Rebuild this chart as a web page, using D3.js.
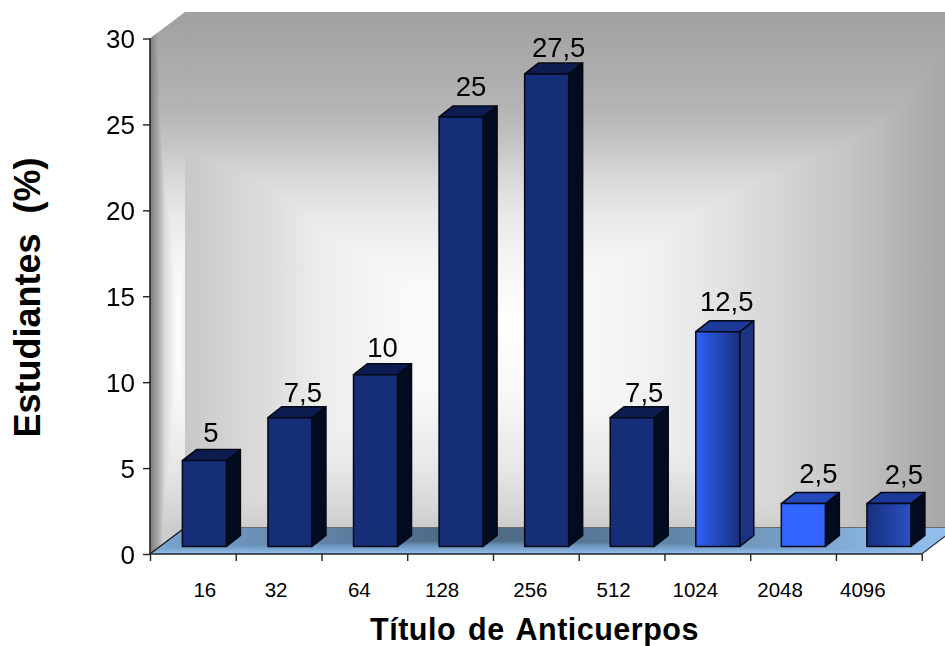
<!DOCTYPE html>
<html><head><meta charset="utf-8">
<script src="https://cdn.jsdelivr.net/npm/d3@7"></script>
<style>html,body{margin:0;padding:0;background:#fff;overflow:hidden}svg{display:block}text{font-family:"Liberation Sans",Arial,sans-serif;fill:#000}</style>
</head><body><div id="c"></div>
<script>
const categories=["16","32","64","128","256","512","1024","2048","4096"];
const values=[5,7.5,10,25,27.5,7.5,12.5,2.5,2.5];
const valueLabels=["5","7,5","10","25","27,5","7,5","12,5","2,5","2,5"];
const yTicks=[0,5,10,15,20,25,30];
const xTitle="Título de Anticuerpos";
const yTitle="Estudiantes\u00a0\u00a0(%)";
// layout nudges (px), matching the original's uneven label placement
const tickNudge=[12,-2.5,-5,-8,-5.5,-8,-12,-13,-16];
const labelNudgeX=[6.6,13,7,10,12,12,9,15,15];
const labelLift=[7.6,4.6,7,10,6,4.6,10,9.5,9];
// bar skins
const frontLeft=["#162d78","#162d78","#162d78","#162d78","#162d78","#162d78","#2f62f8","#3366ff","#172f7c"];
const frontRight=["#162d78","#162d78","#162d78","#162d78","#162d78","#162d78","#17307c","#3366ff","#2a50c4"];
const sideCol=["#020c20","#020c20","#020c20","#020c20","#020c20","#020c20","#1a3482","#020c20","#020c20"];
const topCol=["#0c1c50","#0c1c50","#0c1c50","#0c1c50","#0c1c50","#0c1c50","#1c3a98","#2348b8","#1d3a9a"];

const W=945,H=646;
const x0=150,x1=921.7,y0=554,y1=38.5,dX=35,dY=-26.5;
const svg=d3.select("#c").append("svg").attr("width",W).attr("height",H);
const defs=svg.append("defs");
const x=d3.scaleBand().domain(categories).range([151.9,922]);
const y=d3.scaleLinear().domain([0,30]).range([y0,y1]);
const line=d3.line();
function grad(id,horizontal,a,b,stops){
  const g=defs.append("linearGradient").attr("id",id).attr("gradientUnits","userSpaceOnUse")
    .attr("x1",horizontal?a:0).attr("x2",horizontal?b:0).attr("y1",horizontal?0:a).attr("y2",horizontal?0:b);
  stops.forEach(s=>g.append("stop").attr("offset",(s[0]-a)/(b-a)).attr("stop-color",s[1]));
}
const wallTop=y1+dY,wallBottom=y0+dY;
grad("wallV",false,wallTop,wallBottom,[[12,"#a0a0a0"],[107,"#b4b4b4"],[143,"#c4c4c4"],[178,"#d8d8d8"],[214,"#e8e8e8"],[250,"#f2f2f2"],[321,"#ffffff"],[393,"#f8f8f8"],[464,"#e8e8e8"],[518,"#d2d2d2"],[527.5,"#cccccc"]]);
grad("wallH",true,x0+dX,W,[[185,"#c8c8c8"],[265,"#dcdcdc"],[327,"#eeeeee"],[400,"#f8f8f8"],[515,"#ffffff"],[660,"#f0f0f0"],[750,"#dcdcdc"],[850,"#c4c4c4"],[945,"#a6a6a6"]]);
grad("sideH",true,x0,x0+dX,[[150,"#7c7c7c"],[158,"#a6a6a6"],[165,"#dcdcdc"],[178,"#ffffff"],[185,"#f0f0f0"]]);
grad("floorV",false,wallBottom,y0,[[527.5,"#4b6580"],[540,"#4b6580"],[546,"#6f98c0"],[554,"#92bfec"]]);
grad("floorH",true,x0,W,[[150,"#7aa6d2"],[465,"#4b6580"],[680,"#6286a8"],[780,"#789ec4"],[880,"#88b4e2"],[945,"#92bfec"]]);

// back wall and side wall
const backPts=[[x0+dX,wallTop],[W,wallTop],[W,wallBottom],[x0+dX,wallBottom]];
const sidePts=[[x0,y0],[x0+dX,wallBottom],[x0+dX,wallTop],[x0,y1]];
const floorPts=[[x0,y0],[x1,y0],[x1+dX,wallBottom],[x0+dX,wallBottom]];
const walls=svg.append("g").style("isolation","isolate");
walls.append("path").attr("d",line(backPts)+"Z").attr("fill","url(#wallV)");
walls.append("path").attr("d",line(backPts)+"Z").attr("fill","url(#wallH)").style("mix-blend-mode","darken");
walls.append("path").attr("d",line(sidePts)+"Z").attr("fill","url(#wallV)");
walls.append("path").attr("d",line(sidePts)+"Z").attr("fill","url(#sideH)").style("mix-blend-mode","darken");
const fl=svg.append("g").style("isolation","isolate");
fl.append("path").attr("d",line(floorPts)+"Z").attr("fill","url(#floorV)");
fl.append("path").attr("d",line(floorPts)+"Z").attr("fill","url(#floorH)").style("mix-blend-mode","lighten");
svg.append("path").attr("d",line([[x0+dX,wallBottom],[W,wallBottom]])).attr("stroke","#6a6a6a").attr("stroke-width",1).attr("fill","none");
svg.append("path").attr("d",line([[x0,y0],[x0+dX,wallBottom]])).attr("stroke","#111").attr("stroke-width",1.2).attr("fill","none");
svg.append("path").attr("d",line([[x1,y0],[x1+dX,wallBottom]])).attr("stroke","#333").attr("stroke-width",1.2).attr("fill","none");

// bars
const barW=44,bdX=14,bdY=-11,frontDX=9.7,frontDY=-7.5;
const bars=svg.append("g").selectAll("g").data(categories).join("g");
bars.each(function(c,i){
  const g=d3.select(this);
  const l=x(c)+x.bandwidth()/2-barW/2+frontDX, r=l+barW;
  const b=y(0)+frontDY, t=y(values[i])+frontDY;
  const id="bar"+i;
  defs.append("linearGradient").attr("id",id).attr("gradientUnits","userSpaceOnUse")
    .attr("x1",l).attr("x2",r).attr("y1",0).attr("y2",0)
    .selectAll("stop").data([[0,frontLeft[i]],[1,frontRight[i]]]).join("stop")
    .attr("offset",d=>d[0]).attr("stop-color",d=>d[1]);
  g.attr("stroke","#020814").attr("stroke-width",1.5).attr("stroke-linejoin","round");
  g.append("path").attr("d",line([[r,t],[r+bdX,t+bdY],[r+bdX,b+bdY],[r,b]])+"Z").attr("fill",sideCol[i]);
  g.append("path").attr("d",line([[l,t],[r,t],[r+bdX,t+bdY],[l+bdX,t+bdY]])+"Z").attr("fill",topCol[i]);
  g.append("path").attr("d",line([[l,t],[r,t],[r,b],[l,b]])+"Z").attr("fill","url(#"+id+")");
  svg.append("text").attr("x",(l+r)/2+labelNudgeX[i]).attr("y",t+bdY-labelLift[i])
    .attr("text-anchor","middle").attr("font-size",27.5).text(valueLabels[i]);
});

// axes
const ay=svg.append("g").attr("transform",`translate(${x0},0)`)
  .call(d3.axisLeft(y).tickValues(yTicks).tickSize(7).tickPadding(8));
ay.selectAll("text").attr("font-size",26).attr("dy","0.36em").style("font-family",'"Liberation Sans"');
const ax=svg.append("g").attr("transform",`translate(0,${y0})`)
  .call(d3.axisBottom(d3.scaleLinear().domain([0,categories.length]).range([x0,x1])).tickValues(d3.range(categories.length+1)).tickSize(7).tickFormat(""));
[ay,ax].forEach(a=>{a.selectAll("line").attr("stroke","#222").attr("stroke-width",1.4);a.select(".domain").attr("stroke","#222").attr("stroke-width",1.6);});
ay.select(".domain").attr("d",`M0,${y1}V${y0}`);
ax.select(".domain").attr("d",`M${x0},0H${x1}`);
const tickX=d3.scaleBand().domain(categories).range([x0,x1]);
svg.append("g").selectAll("text").data(categories).join("text")
  .attr("x",(c,i)=>tickX(c)+tickX.bandwidth()/2+tickNudge[i]).attr("y",597)
  .attr("text-anchor","middle").attr("font-size",20.5).text(c=>c);

// titles
svg.append("text").attr("x",534.5).attr("y",640).attr("text-anchor","middle")
  .attr("font-size",30.5).attr("font-weight","bold").style("letter-spacing","0.5px").style("word-spacing","3px").text(xTitle);
svg.append("text").attr("transform","translate(39.5,297.5) rotate(-90)").attr("text-anchor","middle")
  .attr("font-size",36).attr("font-weight","bold").text(yTitle);
</script></body></html>
